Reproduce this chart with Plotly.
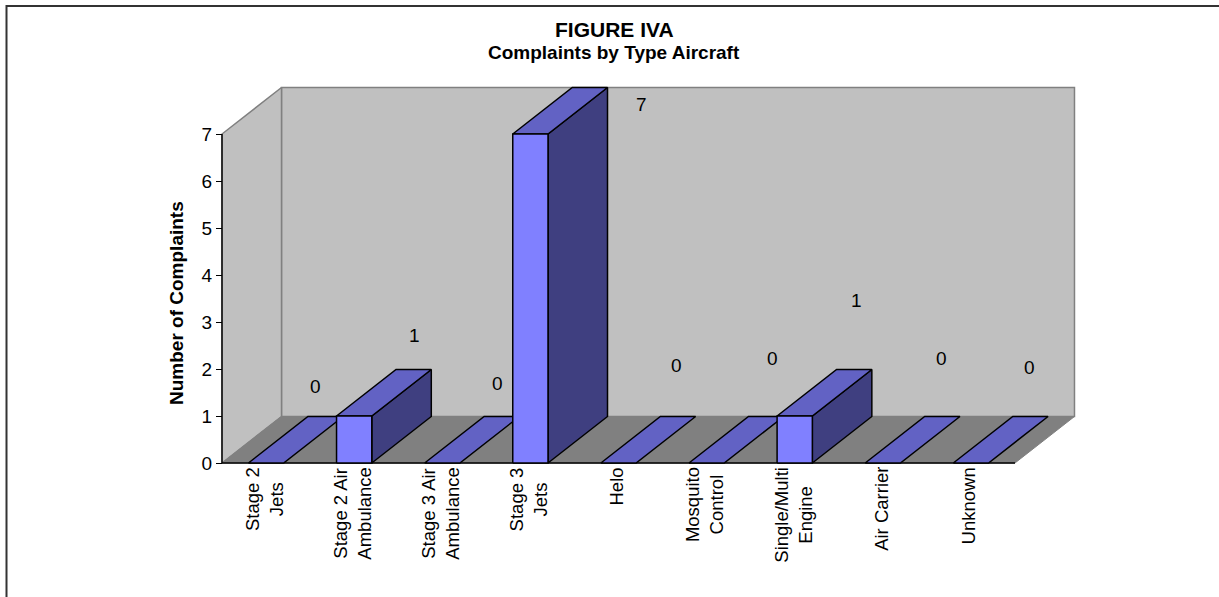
import plotly.graph_objects as go

# ---- data -------------------------------------------------------------
categories = [
    "Stage 2<br>Jets",
    "Stage 2 Air<br>Ambulance",
    "Stage 3 Air<br>Ambulance",
    "Stage 3<br>Jets",
    "Helo",
    "Mosquito<br>Control",
    "Single/Multi<br>Engine",
    "Air Carrier",
    "Unknown",
]
complaints = [0, 1, 0, 7, 0, 0, 1, 0, 0]
y_ticks = [0, 1, 2, 3, 4, 5, 6, 7]

# ---- value-label nudges (pixels) -------------------------------------
label_nudge_x = [-10, 1, -4, 52, -1, 6, 2, -1, -1]
label_nudge_y = [30, 34, 33, -17, 51, 58, 69, 58, 49]

# ---- page / plot geometry (pixels) -----------------------------------
W, H = 1219, 597
PLOT_L, PLOT_R, PLOT_T, PLOT_B = 210, 1085, 78, 472
ORIGIN_X, ORIGIN_Y = 222, 463          # pixel of (category 0, value 0)
PX_PER_CAT, PX_PER_VAL = 88.11, 47.0
DEPTH_PX_X, DEPTH_PX_Y = 59.5, 46.5      # 3-D depth offset of the walls

DX = DEPTH_PX_X / PX_PER_CAT             # depth in category units
DY = DEPTH_PX_Y / PX_PER_VAL             # depth in value units
HALF_W = 0.2                             # half bar width (category units)
N = len(categories)
VMAX = max(y_ticks)

x_range = [(PLOT_L - ORIGIN_X) / PX_PER_CAT, (PLOT_R - ORIGIN_X) / PX_PER_CAT]
y_range = [(ORIGIN_Y - PLOT_B) / PX_PER_VAL, (ORIGIN_Y - PLOT_T) / PX_PER_VAL]


def paper_x(px):
    return (px - PLOT_L) / (PLOT_R - PLOT_L)


def paper_y(py):
    return (PLOT_B - py) / (PLOT_B - PLOT_T)


WALL = "#C0C0C0"
WALL_EDGE = "#808080"
FLOOR = "#808080"
FRONT = "#8080FF"
TOP = "#6262C4"
SIDE = "#3F3F80"
FONT = "Liberation Sans, Arial, sans-serif"
EDGE_W = 1.5

fig = go.Figure()


def poly(xs, ys, fill, line_color, line_width=EDGE_W):
    fig.add_trace(go.Scatter(
        x=list(xs) + [xs[0]], y=list(ys) + [ys[0]],
        mode="lines", fill="toself", fillcolor=fill,
        line=dict(color=line_color, width=line_width),
        hoverinfo="skip", showlegend=False,
    ))


def seg(xs, ys, color, width=1.4):
    fig.add_trace(go.Scatter(
        x=xs, y=ys, mode="lines", line=dict(color=color, width=width),
        hoverinfo="skip", showlegend=False,
    ))


# back wall
poly([DX, N + DX, N + DX, DX], [DY, DY, VMAX + DY, VMAX + DY], WALL, WALL_EDGE, 1.5)
# left wall
poly([0, DX, DX, 0], [0, DY, VMAX + DY, VMAX], WALL, WALL_EDGE, 1.5)
# floor
poly([0, N, N + DX, DX], [0, 0, DY, DY], FLOOR, FLOOR, 1)
# front edges: value axis and category axis
seg([0, 0], [0, VMAX], "black")
seg([0, N], [0, 0], "black")

# bars, left to right so nearer faces overlap correctly
for i, v in enumerate(complaints):
    c = i + 0.5
    xl, xr = c - HALF_W, c + HALF_W
    if v > 0:
        poly([xr, xr + DX, xr + DX, xr], [0, DY, v + DY, v], SIDE, "black")
    poly([xl, xr, xr + DX, xl + DX], [v, v, v + DY, v + DY], TOP, "black")
    if v > 0:
        poly([xl, xr, xr, xl], [0, 0, v, v], FRONT, "black")

annotations = []

# value labels
for i, v in enumerate(complaints):
    annotations.append(dict(
        x=i + 0.5 + DX, y=v + DY, xref="x", yref="y",
        text=str(v), showarrow=False,
        xshift=label_nudge_x[i], yshift=label_nudge_y[i],
        font=dict(family=FONT, size=19, color="black"),
    ))

# category labels, rotated
for i, name in enumerate(categories):
    annotations.append(dict(
        x=i + 0.5, y=0, xref="x", yref="y",
        text=name, showarrow=False, textangle=-90,
        xanchor="center", yanchor="top", align="center",
        xshift=-2, yshift=-2,
        font=dict(family=FONT, size=18.5, color="black"),
    ))

# value axis title
annotations.append(dict(
    x=paper_x(176), y=paper_y(303), xref="paper", yref="paper",
    text="<b>Number of Complaints</b>", showarrow=False, textangle=-90,
    xanchor="center", yanchor="middle",
    font=dict(family=FONT, size=19, color="black"),
))

# chart title
annotations.append(dict(
    x=paper_x(614), y=paper_y(29), xref="paper", yref="paper",
    text="<b>FIGURE IVA</b>", showarrow=False,
    xanchor="center", yanchor="middle",
    font=dict(family=FONT, size=21, color="black"),
))
annotations.append(dict(
    x=paper_x(614), y=paper_y(53), xref="paper", yref="paper",
    text="<b>Complaints by Type Aircraft</b>", showarrow=False,
    xanchor="center", yanchor="middle",
    font=dict(family=FONT, size=19, color="black"),
))

fig.update_layout(
    width=W, height=H,
    margin=dict(l=PLOT_L, r=W - PLOT_R, t=PLOT_T, b=H - PLOT_B, pad=0),
    paper_bgcolor="white", plot_bgcolor="white",
    showlegend=False, hovermode=False,
    xaxis=dict(range=x_range, showgrid=False, zeroline=False, showline=False,
               showticklabels=False, ticks="", fixedrange=True),
    yaxis=dict(range=y_range, anchor="free", position=paper_x(ORIGIN_X),
               showgrid=False, zeroline=False, showline=False,
               tickmode="array", tickvals=y_ticks, ticktext=[str(t) for t in y_ticks],
               ticks="outside", ticklen=6, tickcolor="black", tickwidth=1.4,
               tickfont=dict(family=FONT, size=19, color="black"),
               fixedrange=True),
    annotations=annotations,
    shapes=[dict(
        type="rect", xref="paper", yref="paper",
        x0=paper_x(6.5), x1=paper_x(1235), y0=paper_y(620), y1=paper_y(6),
        line=dict(color="#333333", width=2), fillcolor="rgba(0,0,0,0)",
        layer="above",
    )],
)

fig.write_html("out.html")
